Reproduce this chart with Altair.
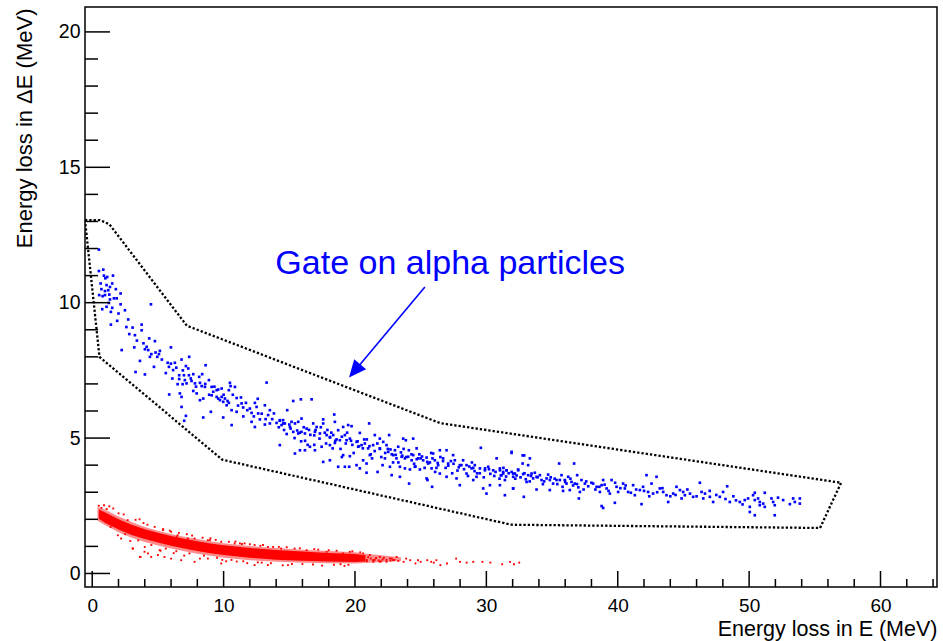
import altair as alt
import pandas as pd

W, H = 852, 580
XDOM = [-0.55, 64.3]
YDOM = [-0.5, 20.92]
FONT = "Liberation Sans"

# ---- alpha particles (blue) ----
blue_pts = [
 (0.51,11.96),(0.51,11.17),(0.84,11.22),(0.89,11.0),(1.14,10.95),(1.58,11.0),(0.64,10.71),(1.09,10.65),(1.52,10.71),(1.35,10.58),
 (1.22,10.46),(0.97,10.43),(0.53,10.28),(0.79,10.24),(0.97,10.28),(1.35,10.12),(1.65,10.16),(1.86,10.16),(2.16,10.34),(1.27,9.99),
 (1.09,9.85),(0.76,9.76),(1.52,9.81),(1.42,9.66),(2.16,9.94),(2.49,9.72),(4.47,9.94),(1.90,9.33),(1.42,9.19),(2.74,9.38),
 (3.07,9.08),(3.76,9.19),(2.82,8.84),(3.25,8.80),(3.76,8.98),(4.34,8.68),(4.77,8.58),(3.20,8.35),(4.14,8.37),(4.01,8.28),
 (4.26,8.25),(2.24,8.25),(5.15,8.22),(4.82,8.16),(5.08,8.10),(5.99,8.35),(4.39,8.0),(4.95,8.0),(3.63,7.85),(4.70,7.63),
 (3.30,7.44),(4.01,7.35),(5.74,7.78),(5.99,7.75),(6.29,7.78),(5.84,7.63),(6.16,7.51),(6.80,7.90),(7.38,8.0),(7.13,7.66),
 (7.31,7.57),(6.62,7.32),(6.98,7.32),(7.36,7.32),(7.69,7.36),(8.63,7.69),(8.37,7.36),(6.62,7.18),(7.05,7.14),(7.56,7.11),
 (8.14,7.26),(6.50,6.99),(6.88,6.99),(7.18,7.02),(7.82,7.02),(8.20,7.04),(8.88,7.14),(8.58,6.89),(8.33,6.92),(7.69,6.74),
 (7.95,6.65),(9.09,6.89),(9.21,6.71),(9.47,6.77),(9.59,6.79),(9.85,6.83),(10.48,7.04),(10.53,6.92),(10.86,6.89),(10.40,6.77),
 (5.86,6.61),(6.67,6.65),(6.80,6.52),(8.20,6.40),(8.45,6.46),(9.09,6.58),(9.47,6.52),(9.59,6.46),(9.72,6.40),(9.85,6.52),
 (9.97,6.34),(10.10,6.46),(10.30,6.37),(10.23,6.21),(10.99,6.48),(11.32,6.50),(10.61,6.03),(10.99,5.97),(11.37,6.28),(11.49,6.13),
 (11.80,6.03),(12.0,6.09),(12.38,6.30),(12.51,6.15),(12.13,5.93),(12.63,5.91),(13.14,6.21),(13.27,7.05),(13.52,6.03),(13.83,5.91),
 (13.39,5.85),(6.80,6.15),(7.13,5.82),(7.0,5.64),(8.45,5.76),(9.03,5.97),(9.97,5.76),(10.61,5.48),(12.13,5.60),(12.38,5.41),
 (12.76,5.69),(13.14,5.50),(13.52,5.54),(14.03,5.56),(14.28,5.64),(14.54,5.54),
 (15.30,6.37),(15.88,6.43),(16.70,6.43),(14.84,6.03),(14.28,5.66),(14.53,5.66),(14.66,5.54),(14.41,5.48),(15.17,5.60),(15.43,5.54),
 (15.68,5.60),(15.93,5.72),(15.05,5.41),(15.30,5.23),(15.68,5.17),(15.93,5.23),(16.19,5.17),(16.32,5.35),(16.82,5.54),(17.08,5.41),
 (16.95,5.23),(17.33,5.17),(17.58,5.69),(17.58,5.54),(18.42,5.87),(18.47,5.60),(17.84,5.11),(18.09,5.04),(18.34,5.11),(18.72,5.29),
 (19.10,5.41),(19.48,5.48),(19.74,5.44),(19.23,5.11),(19.36,4.92),(19.61,4.98),(18.85,4.92),(18.47,4.82),(18.09,4.74),(17.46,4.68),
 (16.95,4.55),(16.57,4.68),(16.19,4.55),(15.81,4.55),(15.43,4.43),(14.28,4.74),(17.58,4.12),(18.09,4.18),(18.72,3.94),(19.23,3.94),
 (19.56,3.94),(19.10,4.37),(19.61,4.33),(20.37,5.19),(21.08,5.54),(20.12,4.86),(20.50,4.74),(20.24,4.68),(20.75,4.80),(21.0,4.62),
 (21.38,4.74),(21.51,5.11),(21.89,4.98),(22.15,4.86),(21.89,4.62),(22.40,4.74),(22.60,5.11),(22.53,4.49),(23.04,4.55),(23.29,4.68),
 (22.91,4.37),(23.16,4.25),(21.13,4.37),(20.62,4.18),(20.88,4.06),(20.12,4.00),(20.37,3.88),(20.88,3.72),(21.72,3.75),(22.28,4.25),
 (22.66,3.94),(22.79,3.63),(23.67,4.98),(23.87,4.92),(24.43,4.98),(23.55,4.31),(23.80,4.25),(24.05,4.31),(24.31,4.18),(24.43,4.37),
 (24.69,4.62),(24.81,4.25),(23.42,3.94),(23.80,3.88),(24.18,3.84),(24.56,3.94),(24.94,3.84),(25.19,4.18),(25.45,4.28),(25.57,4.06),
 (25.95,4.43),(26.08,4.18),(26.33,4.0),(25.83,3.88),(25.45,3.51),(25.52,3.45),(26.46,4.55),(26.71,4.25),(26.97,4.55),(27.09,4.06),
 (27.47,4.37),(27.60,4.18),(27.98,4.0),(28.23,4.18),(28.49,4.0),(28.87,3.88),(29.12,4.0),(29.51,3.88),(29.58,4.64),(29.89,3.81),
 (30.14,3.94),(30.52,3.81),(30.78,4.25),(31.03,3.88),(31.28,3.69),(31.54,3.81),(31.92,4.49),(32.04,3.69),(32.42,3.81),(26.46,3.69),
 (26.97,3.57),(27.73,3.51),(28.49,3.69),(29.0,3.45),(29.25,3.57),(29.76,3.14),(30.27,3.26),(31.03,3.26),(32.04,3.14),(30.01,2.95),
 (27.98,3.26),(25.87,3.20),(24.12,3.32),(23.42,3.57),
 (31.92,4.45),(32.76,4.36),(32.88,4.36),(33.31,4.25),(32.76,4.06),(33.18,4.0),(35.54,4.06),(36.68,4.06),(31.03,3.81),(31.28,3.75),
 (31.54,3.81),(31.16,3.63),(31.92,3.75),(32.17,3.69),(32.42,3.84),(32.04,3.57),(31.41,3.45),(32.80,3.67),(33.18,3.63),(33.44,3.69),
 (33.69,3.72),(33.82,3.57),(34.07,3.63),(34.20,3.45),(33.56,3.51),(33.06,3.38),(34.58,3.51),(34.83,3.45),(35.08,3.32),(35.34,3.45),
 (35.72,3.63),(35.59,3.45),(35.97,3.45),(36.10,3.32),(36.23,3.57),(36.48,3.38),(36.91,3.63),(36.73,3.32),(37.24,3.45),(37.50,3.32),
 (37.75,3.22),(34.83,3.08),(33.82,3.10),(32.04,3.14),(31.41,2.89),(32.85,2.83),(35.84,3.05),(37.12,3.01),(36.35,3.08),(37.04,2.77),
 (38.13,3.32),(38.39,3.20),(38.77,3.26),(38.89,3.45),(38.64,3.01),(39.15,3.14),(39.53,3.45),(39.40,2.95),(39.91,3.20),(40.03,3.01),
 (40.41,3.32),(40.54,3.14),(40.79,3.01),(41.17,3.26),(41.30,2.89),(41.68,3.08),(41.93,3.20),(42.19,3.63),(42.95,3.57),(42.57,3.32),
 (42.31,3.01),(42.69,2.95),(43.20,3.14),(43.46,3.01),(43.71,2.89),(44.22,2.95),(44.47,3.20),(44.73,3.08),(44.98,3.01),(44.86,2.77),
 (45.11,2.89),(45.74,2.83),(46.25,3.35),(46.38,3.01),(46.64,2.95),(46.51,2.77),(47.01,2.83),(47.26,2.64),(47.77,2.83),(48.02,3.01),
 (48.33,3.22),(48.53,2.64),(43.84,2.64),(41.81,2.56),(39.78,2.61),(38.77,2.49),(38.89,2.42),(49.29,2.64),(49.67,2.71),(49.92,2.77),
 (50.30,2.89),(50.43,2.71),(50.68,2.77),(50.81,2.64),(50.43,2.98),(51.19,2.98),(51.07,2.58),(51.19,2.46),(50.05,2.46),(50.05,2.27),
 (50.43,2.15),(51.70,2.77),(51.83,2.64),(51.95,2.52),(51.95,2.15),(52.59,2.71),(53.10,2.56),(53.35,2.77),(53.48,2.64),(53.86,2.77),
 (53.86,2.58),(50.81,2.52),
 (15.1,5.35),(15.6,5.28),(16.1,5.40),(16.6,5.12),(17.0,5.30),(17.3,4.98),(17.7,5.20),(18.1,5.02),(18.6,4.95),(19.0,5.05),
 (19.3,4.80),(19.8,4.75),(20.2,4.88),(20.6,4.62),(21.1,4.70),(21.5,4.52),(21.9,4.60),(22.3,4.45),(22.7,4.58),(23.1,4.38),
 (23.5,4.47),(23.9,4.30),(24.3,4.40),(24.7,4.22),(25.1,4.32),(25.5,4.12),(25.9,4.25),(26.3,4.08),(26.7,4.15),(27.1,3.98),
 (27.5,4.05),(27.9,3.92),(28.3,3.85),(28.7,3.95),(29.1,3.78),(29.5,3.70),(29.9,3.88),(30.3,3.68),(30.7,3.75),(31.1,3.62),
 (31.5,3.58),(32.3,3.62),(32.6,3.55),(33.0,3.48),(33.4,3.60),(34.4,3.40),(34.9,3.55),(35.4,3.30),(36.0,3.38),(36.6,3.25),
 (37.0,3.18),(37.6,3.40),(38.3,3.10),(39.0,3.28),(40.2,3.15),(41.0,2.98),(42.0,3.05),(43.0,3.0),(44.0,2.85),(45.5,2.95),
 (47.5,2.90),(48.2,2.75),(49.0,2.70),(16.9,4.75),(18.3,4.62),(19.9,4.45),(21.3,4.25),(22.9,4.10),(24.6,3.95),(26.1,3.75),
 (14.8,5.15),(15.9,4.88),(17.9,5.30),(20.9,4.95),(23.7,4.60),(25.8,4.45),
 (1.0,10.9),(0.7,10.5),(1.8,10.5),(1.3,10.3),(2.0,9.6),(2.6,9.1),(3.4,8.6),(3.9,8.5),(4.5,8.1),(5.3,7.9),
 (5.6,7.4),(6.1,7.2),(6.4,7.6),(6.9,7.5),(7.5,7.2),(7.9,6.9),(8.6,7.0),(8.9,6.6),(9.3,6.9),(10.0,6.6),
 (10.7,6.6),(11.1,6.2),(11.7,6.3),(12.3,5.8),(12.9,5.9),(13.2,5.7),(13.7,5.7),(11.5,5.8),(12.6,6.45),(10.4,6.3),
 (14.2,5.4),(14.6,5.3),(15.0,5.5),(15.4,5.0),(15.8,5.2),(16.2,4.9),(16.5,5.3),(16.9,5.1),(17.4,5.4),(17.8,4.8),
 (18.2,5.2),(18.5,4.9),(18.9,4.6),(19.4,5.2),(19.7,4.9),(20.3,4.7),(20.7,4.95),(21.2,4.4),(21.7,4.8),(22.0,4.3),
 (22.5,4.6),(22.8,4.4),(23.3,4.1),(23.6,4.35),(24.1,4.55),(24.5,4.05),(25.0,4.25),(25.3,3.9),(25.7,4.1),(26.2,3.9),
 (26.5,4.3),(26.9,3.9),(27.3,4.15),(27.8,3.8),(28.1,4.0),(28.6,3.6),(29.0,3.9),(29.3,3.7),(29.8,3.55),(30.2,3.85),
 (30.6,3.6),(31.0,3.5),(31.3,3.9),(31.7,3.7),(27.4,3.7),(24.9,4.4),(22.1,4.0),(19.0,4.3),(16.4,4.75),(28.9,4.1),
 (32.2,3.5),(32.9,3.7),(33.3,3.4),(33.9,3.55),(34.3,3.3),(34.7,3.65),(35.2,3.5),(35.8,3.2),(36.4,3.5),(36.9,3.3),
 (37.4,3.1),(38.0,3.35),(38.6,3.2),(39.3,3.05),(39.8,3.35),(40.6,3.25),(41.4,3.1),(42.4,2.85),(43.4,3.15),(44.4,2.9),
 (45.3,3.1),(46.0,2.85),(47.0,3.05),(48.8,2.85),(49.5,2.55),(52.2,2.8),
]
blue_x = [p[0] for p in blue_pts]
blue_y = [p[1] for p in blue_pts]

# ---- light particles (red): fringe envelope, dense core, scattered hits ----
env_x  = [0.4, 1.0, 2.0, 3.0, 4.0, 5.0, 6.0, 7.0, 8.0, 9.0, 10.0, 12.0, 14.0, 16.0, 18.0, 20.0, 21.0, 23.5]
env_hi = [2.45, 2.35, 2.10, 1.90, 1.72, 1.58, 1.46, 1.36, 1.27, 1.19, 1.12, 1.01, 0.94, 0.88, 0.83, 0.78, 0.72, 0.60]
env_lo = [1.95, 1.78, 1.52, 1.32, 1.16, 1.03, 0.92, 0.82, 0.73, 0.65, 0.58, 0.49, 0.43, 0.40, 0.38, 0.37, 0.40, 0.46]

core_x  = [0.5, 1.0, 2.0, 3.0, 4.0, 5.0, 6.0, 7.0, 8.0, 9.0, 10.0, 12.0, 14.0, 16.0, 18.0, 20.0, 20.8]
core_hi = [2.36, 2.25, 2.00, 1.80, 1.63, 1.50, 1.38, 1.28, 1.19, 1.11, 1.04, 0.94, 0.87, 0.81, 0.76, 0.72, 0.67]
core_lo = [2.02, 1.86, 1.62, 1.42, 1.27, 1.14, 1.02, 0.92, 0.83, 0.75, 0.68, 0.58, 0.51, 0.47, 0.44, 0.42, 0.44]

red_pts = [
 (0.5,2.50),(0.9,2.52),(1.3,2.48),(0.7,2.42),(1.1,2.38),(3.6,2.0),(2.7,1.97),(1.95,1.41),(2.2,1.29),(3.1,0.92),
 (3.68,0.61),(3.98,0.80),(4.49,0.61),(5.0,0.68),(5.5,0.61),(4.75,1.72),(5.38,1.60),(6.0,1.54),(6.5,1.41),(7.28,1.29),
 (7.79,1.29),(8.8,1.23),(9.82,1.17),(10.84,1.11),(11.6,1.11),(12.36,1.05),(13.37,0.98),(14.38,0.92),(15.4,0.92),(6.0,0.55),
 (6.77,0.49),(7.79,0.43),(9.82,0.37),(12.36,0.31),(13.37,0.31),(14.9,0.31),(4.24,0.74),(5.13,0.86),(3.07,0.92),(3.63,0.61),
 (4.9,1.35),(6.42,1.35),(8.96,1.23),(11.24,1.11),(13.77,0.98),(16.32,0.86),(17.84,0.80),(19.1,0.74),(20.62,0.74),(21.13,0.68),
 (21.89,0.61),(22.66,0.55),(23.17,0.61),(21.38,0.49),(21.89,0.43),(22.4,0.43),(22.9,0.49),(23.7,0.43),(24.2,0.49),(24.6,0.37),
 (25.0,0.43),(25.5,0.49),(26.0,0.40),(26.5,0.31),(27.0,0.37),(27.7,0.55),(28.0,0.43),(28.5,0.40),(29.0,0.43),(29.7,0.43),
 (30.3,0.40),(31.2,0.34),(31.8,0.43),(32.1,0.34),(32.5,0.40),(23.9,0.55),(24.8,0.49),(25.8,0.43),(26.2,0.49),
 (20.9,0.50),(21.2,0.55),(21.5,0.50),(21.8,0.48),(22.1,0.52),(22.4,0.50),(22.7,0.47),(23.0,0.50),(23.3,0.46),(21.0,0.60),
 (21.6,0.57),(22.2,0.58),(22.8,0.55),(20.9,0.45),(21.4,0.43),(22.0,0.45),
 (1.6,2.40),(2.4,2.18),(3.3,1.98),(4.2,1.80),(5.4,1.64),(6.6,1.50),(7.6,1.40),(8.4,1.32),(9.4,1.24),(10.4,1.17),
 (11.4,1.09),(12.8,1.02),(14.2,0.98),(15.8,0.93),(17.2,0.88),(18.6,0.84),(19.6,0.80),
 (1.4,1.72),(2.5,1.45),(3.5,1.22),(4.5,1.05),(5.6,0.92),(6.4,0.82),(7.4,0.74),(8.5,0.66),(9.5,0.58),(10.6,0.50),
 (11.5,0.45),(12.6,0.41),(13.6,0.38),(15.2,0.35),(16.8,0.33),(18.4,0.32),(19.5,0.32),(8.2,0.55),(10.2,0.45),(11.8,0.38),
 (14.5,0.30),(17.5,0.29),(19.2,0.28),(7.0,0.66),(5.2,0.84),(4.0,0.98),(2.9,1.20),
 (2.0,2.22),(3.9,1.86),(5.9,1.58),(7.2,1.45),(9.0,1.30),(10.9,1.18),(12.0,1.08),(13.0,1.05),(14.8,0.97),(16.9,0.90),
 (18.0,0.86),(19.8,0.82),(20.4,0.78),(6.2,0.75),(8.8,0.55),(9.9,0.50),(11.0,0.44),(12.9,0.40),(16.0,0.35),(18.9,0.34),
]
red_x = [p[0] for p in red_pts]
red_y = [p[1] for p in red_pts]

# ---- graphical gate (polygon) ----
gate_x = [-0.55, 0.6, 1.3, 7.2, 26.5, 57.0, 55.4, 31.9, 9.9, 0.55, -0.45, -0.55]
gate_y = [13.05, 13.05, 12.9, 9.15, 5.55, 3.35, 1.68, 1.8, 4.2, 8.0, 12.6, 13.05]

# ---- annotation ----
label_text = "Gate on alpha particles"
label_pos = (13.94, 11.05)
arrow_start = (25.32, 10.58)
arrow_head = (19.97, 7.48)

# ---- axis ticks ----
x_major = [0, 10, 20, 30, 40, 50, 60]
x_minor = [v for v in range(2, 65, 2) if v % 10 != 0]
y_major = [0, 5, 10, 15, 20]
y_minor = [v for v in range(1, 21) if v % 5 != 0]

xs = alt.Scale(domain=XDOM, nice=False, zero=False)
ys = alt.Scale(domain=YDOM, nice=False, zero=False)

xaxis = alt.Axis(values=x_major, ticks=False, tickSize=0, domain=False, grid=False,
                 labelFont=FONT, labelFontSize=19, labelColor="black", labelPadding=9,
                 labelFlush=False, labelOverlap=False,
                 title="Energy loss in E (MeV)", titleFont=FONT, titleFontSize=21.5,
                 titleFontWeight="normal", titleColor="black", titleAlign="right",
                 titleBaseline="alphabetic", titleX=W, titleY=48)
yaxis = alt.Axis(values=y_major, ticks=False, tickSize=0, domain=False, grid=False,
                 labelFont=FONT, labelFontSize=19.5, labelColor="black", labelPadding=5,
                 labelFlush=False, labelOverlap=False,
                 title="Energy loss in ΔE (MeV)", titleFont=FONT, titleFontSize=22,
                 titleFontWeight="normal", titleColor="black", titleAngle=270,
                 titleAlign="right", titleBaseline="alphabetic", titleX=-54, titleY=1)

def X(f):
    return alt.X(f, type="quantitative", scale=xs, axis=xaxis)

def Y(f):
    return alt.Y(f, type="quantitative", scale=ys, axis=yaxis)

df_blue = pd.DataFrame({"x": blue_x, "y": blue_y})
df_red = pd.DataFrame({"x": red_x, "y": red_y})
df_env = pd.DataFrame({"x": env_x, "lo": env_lo, "hi": env_hi})
df_core = pd.DataFrame({"x": core_x, "lo": core_lo, "hi": core_hi})
df_gate = pd.DataFrame({"x": gate_x, "y": gate_y, "i": list(range(len(gate_x)))})
df_text = pd.DataFrame({"x": [label_pos[0]], "y": [label_pos[1]], "t": [label_text]})
df_arrow = pd.DataFrame({"x": [arrow_start[0]], "y": [arrow_start[1]],
                         "x2": [arrow_head[0]], "y2": [arrow_head[1]]})
df_head = pd.DataFrame({"x": [arrow_head[0]], "y": [arrow_head[1]]})
df_xmaj = pd.DataFrame({"x": x_major})
df_xmin = pd.DataFrame({"x": x_minor})
df_ymaj = pd.DataFrame({"y": y_major})
df_ymin = pd.DataFrame({"y": y_minor})

env = alt.Chart(df_env).mark_area(color="#ff0000", opacity=0.45, orient="vertical", clip=True).encode(
    x=X("x"), y=Y("lo"), y2="hi")
core = alt.Chart(df_core).mark_area(color="#ff0000", opacity=1, orient="vertical", clip=True).encode(
    x=X("x"), y=Y("lo"), y2="hi")
red = alt.Chart(df_red).mark_square(size=3.5, color="#ff0000", opacity=1, clip=True).encode(
    x=X("x"), y=Y("y"))
blue = alt.Chart(df_blue).mark_square(size=7, color="#0000ff", opacity=1, clip=True).encode(
    x=X("x"), y=Y("y"))
gate = alt.Chart(df_gate).mark_line(color="black", strokeWidth=2.3, strokeDash=[2.3, 2.0],
                                    strokeCap="butt", clip=True).encode(
    x=X("x"), y=Y("y"), order="i:Q")
text = alt.Chart(df_text).mark_text(font=FONT, fontSize=34, color="#0000ff", align="left",
                                    baseline="alphabetic").encode(
    x=X("x"), y=Y("y"), text="t:N")
arrow = alt.Chart(df_arrow).mark_rule(color="#0000ff", strokeWidth=1.6).encode(
    x=X("x"), y=Y("y"), x2="x2", y2="y2")
head = alt.Chart(df_head).mark_point(shape="M0,-1L-0.9,1L0.9,1Z", size=300, angle=220,
                                     filled=True, color="#0000ff", opacity=1, strokeWidth=0).encode(
    x=X("x"), y=Y("y"))

xt_major = alt.Chart(df_xmaj).mark_rule(color="black", strokeWidth=1.5).encode(
    x=X("x"), y=alt.value(H), y2=alt.value(H - 16))
xt_minor = alt.Chart(df_xmin).mark_rule(color="black", strokeWidth=1.5).encode(
    x=X("x"), y=alt.value(H), y2=alt.value(H - 8))
yt_major = alt.Chart(df_ymaj).mark_rule(color="black", strokeWidth=1.5).encode(
    y=Y("y"), x=alt.value(0), x2=alt.value(25))
yt_minor = alt.Chart(df_ymin).mark_rule(color="black", strokeWidth=1.5).encode(
    y=Y("y"), x=alt.value(0), x2=alt.value(13))

chart = alt.layer(
    env, core, red, blue, gate, arrow, head, text, xt_major, xt_minor, yt_major, yt_minor
).properties(
    width=W, height=H,
    autosize=alt.AutoSizeParams(type="none"),
    padding={"left": 85, "top": 7, "right": 6, "bottom": 54},
    background="white",
).configure_view(stroke="black", strokeWidth=1.5)

chart.save("out.html", embed_options={"renderer": "svg", "actions": False})
